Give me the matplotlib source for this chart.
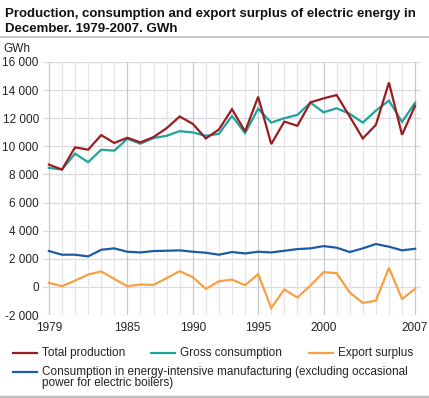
import matplotlib
matplotlib.use("Agg")
import matplotlib.pyplot as plt
from matplotlib.lines import Line2D
from matplotlib.ticker import FuncFormatter

years = list(range(1979, 2008))
total_production = [8700, 8350, 9930, 9760, 10800, 10240, 10610, 10280, 10660, 11290,
                    12120, 11600, 10560, 11200, 12640, 11060, 13530, 10160, 11760, 11460,
                    13130, 13410, 13650, 12120, 10560, 11530, 14540, 10820, 12890]
gross_consumption = [8470, 8350, 9480, 8870, 9760, 9690, 10540, 10190, 10590, 10750,
                     11080, 10990, 10750, 10890, 12160, 10940, 12680, 11690, 12000, 12240,
                     13110, 12420, 12710, 12310, 11690, 12540, 13250, 11740, 13110]
export_surplus = [290, 50, 450, 880, 1100, 570, 50, 170, 140, 620,
                  1120, 690, -140, 400, 520, 120, 900, -1500, -190, -760,
                  100, 1050, 980, -400, -1140, -980, 1360, -860, -140]
energy_intensive = [2550, 2290, 2290, 2170, 2640, 2740, 2500, 2450, 2550, 2570,
                    2600, 2500, 2430, 2290, 2480, 2380, 2500, 2450, 2570, 2690,
                    2740, 2900, 2790, 2480, 2740, 3050, 2860, 2600, 2710]
x_tick_labels = [1979, 1985, 1990, 1995, 2000, 2007]
y_ticks = [-2000, 0, 2000, 4000, 6000, 8000, 10000, 12000, 14000, 16000]

labels = ["Total production", "Gross consumption", "Export surplus",
          "Consumption in energy-intensive manufacturing (excluding occasional",
          "power for electric boilers)"]
colors = ["#9b1c20", "#1fa39b", "#f7a043", "#1b5ba8"]

plt.rcParams['font.family'] = ['Liberation Sans', 'DejaVu Sans']

W, H = 429, 398
fig = plt.figure(figsize=(W / 100, H / 100), dpi=100)
ax = fig.add_axes([43 / W, 1 - 315 / H, (421 - 43) / W, (315 - 62) / H])

ax.set_xlim(1978.55, 2007.45)
ax.set_ylim(-2000, 16000)

# gridlines
for y in y_ticks:
    ax.axhline(y, color="#d9d9de", lw=0.9, zorder=0)
for yr in years:
    c = "#c8c8d0" if yr in x_tick_labels else "#e4e4e8"
    ax.axvline(yr, color=c, lw=0.9, zorder=0)

series = [total_production, gross_consumption, export_surplus, energy_intensive]
order = [3, 2, 1, 0]
for i in order:
    ax.plot(years, series[i], color=colors[i], lw=1.6, zorder=3 + (3 - i),
            solid_joinstyle='miter')

ax.set_xticks(x_tick_labels)
ax.set_xticklabels([str(v) for v in x_tick_labels])
ax.set_yticks(y_ticks)
ax.yaxis.set_major_formatter(FuncFormatter(lambda v, p: f"{int(v):,}".replace(",", " ")))
ax.tick_params(axis='both', length=0, labelsize=8.5, colors="#222222", pad=3)
ax.tick_params(axis='x', pad=5)
for s in ax.spines.values():
    s.set_visible(False)

# title
fig.text(5 / W, 1 - 16.5 / H, "Production, consumption and export surplus of electric energy in",
         fontsize=9.5, fontweight='bold', va='baseline', ha='left', color="#111111")
fig.text(5 / W, 1 - 32.5 / H, "December. 1979-2007. GWh",
         fontsize=9.5, fontweight='bold', va='baseline', ha='left', color="#111111")
fig.add_artist(Line2D([0, 1], [1 - 37 / H, 1 - 37 / H], color="#bfbfbf", lw=1.2))
fig.text(3 / W, 1 - 49 / H, "GWh", fontsize=8.5, va='center', ha='left', color="#222222")

# legend
def leg(x0, y, i, text):
    fig.add_artist(Line2D([x0 / W, (x0 + 24) / W], [1 - y / H, 1 - y / H], color=colors[i], lw=1.6))
    fig.text((x0 + 29) / W, 1 - y / H, text, fontsize=8.5, va='center', ha='left', color="#222222")

leg(13, 353, 0, labels[0])
leg(151, 353, 1, labels[1])
leg(309, 353, 2, labels[2])
leg(13, 372, 3, labels[3])
fig.text(42 / W, 1 - 383 / H, labels[4], fontsize=8.5, va='center', ha='left', color="#222222")
fig.add_artist(Line2D([0, 1], [1 - 397 / H, 1 - 397 / H], color="#c0c0c0", lw=2.5))

fig.savefig("out.png", dpi=100)
